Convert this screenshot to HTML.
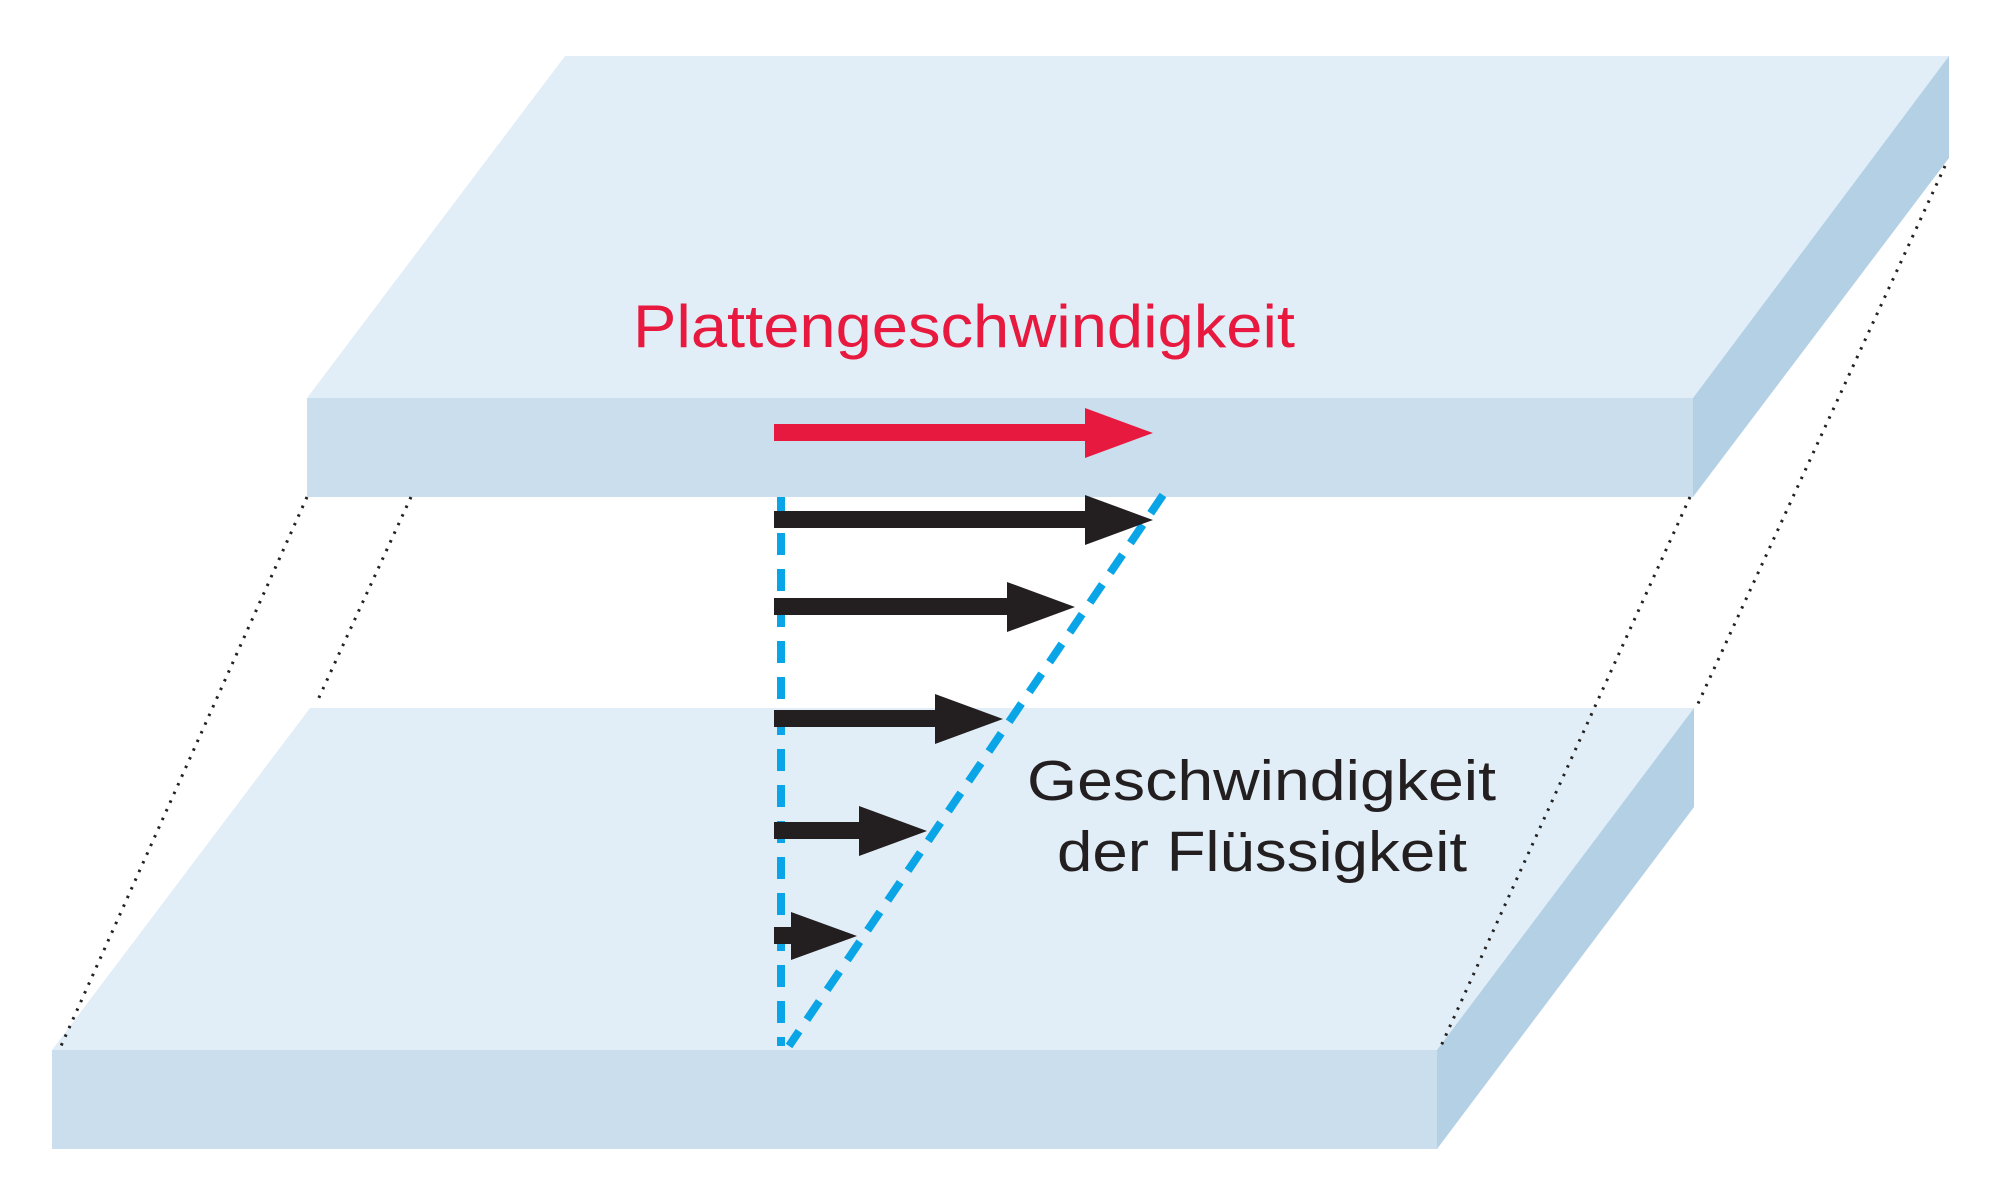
<!DOCTYPE html>
<html><head><meta charset="utf-8"><style>html,body{margin:0;padding:0;background:#fff}svg{display:block}</style></head>
<body>
<svg width="2000" height="1195" viewBox="0 0 2000 1195" xmlns="http://www.w3.org/2000/svg">
<!-- bottom plate -->
<polygon points="310,708 1694,708 1437,1050 52,1050" fill="#e2eef7"/>
<rect x="52" y="1050" width="1385" height="99" fill="#cbdeed"/>
<polygon points="1437,1050 1694,708 1694,807 1437,1149" fill="#b3d0e5"/>
<!-- top plate -->
<polygon points="565,56 1949,56 1693,398 307,398" fill="#e2eef7"/>
<rect x="307" y="398" width="1386" height="99" fill="#cbdeed"/>
<polygon points="1693,398 1949,56 1949,158 1693,497" fill="#b3d0e5"/>
<!-- dotted connectors -->
<g stroke="#222" stroke-width="3" stroke-dasharray="2.5 7" fill="none">
<line x1="307" y1="497" x2="61" y2="1046"/>
<line x1="411" y1="497" x2="316" y2="704"/>
<line x1="1945" y1="166" x2="1696" y2="708"/>
<line x1="1690" y1="497" x2="1441" y2="1046"/>
</g>
<!-- blue dashed lines -->
<g stroke="#0aa5e6" stroke-width="8" stroke-dasharray="22 14" fill="none">
<line x1="781" y1="497" x2="781" y2="1046"/>
<line x1="1163" y1="495" x2="789" y2="1046"/>
</g>
<!-- red arrow -->
<rect x="774" y="424" width="314" height="17" fill="#e8193f"/>
<polygon points="1085,408 1153,433 1085,458" fill="#e8193f"/>
<!-- black arrows -->
<g fill="#231f20">
<rect x="774" y="511" width="314" height="17"/><polygon points="1085,495 1153,520 1085,545"/>
<rect x="774" y="598" width="236" height="17"/><polygon points="1007,582 1075,607 1007,632"/>
<rect x="774" y="710" width="164" height="17"/><polygon points="935,694 1003,719 935,744"/>
<rect x="774" y="822" width="88" height="17"/><polygon points="859,806 927,831 859,856"/>
<rect x="774" y="927" width="20" height="17"/><polygon points="791,912 857,936 791,960"/>
</g>
<!-- text -->
<text x="633" y="347" font-family="Liberation Sans, sans-serif" font-size="60" fill="#e8193f" textLength="662" lengthAdjust="spacingAndGlyphs">Plattengeschwindigkeit</text>
<text x="1027" y="800" font-family="Liberation Sans, sans-serif" font-size="57" fill="#231f20" textLength="469" lengthAdjust="spacingAndGlyphs">Geschwindigkeit</text>
<text x="1057" y="871" font-family="Liberation Sans, sans-serif" font-size="57" fill="#231f20" textLength="410" lengthAdjust="spacingAndGlyphs">der Flüssigkeit</text>
</svg>
</body></html>
